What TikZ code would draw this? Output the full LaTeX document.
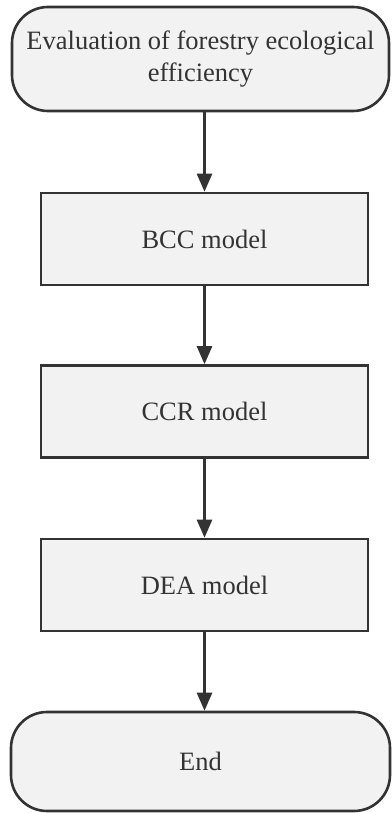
\documentclass[tikz,border=0pt]{standalone}
\usepackage{fontspec}
\setmainfont{Liberation Serif}
\usetikzlibrary{arrows.meta}
\definecolor{strokec}{HTML}{333333}
\definecolor{fillc}{HTML}{F2F2F2}
\definecolor{textc}{HTML}{333333}
\begin{document}
\begin{tikzpicture}[x=1pt,y=1pt,
  base/.style={draw=strokec, line width=2.6pt, fill=fillc, text=textc, inner sep=0pt,
    font=\fontsize{26.5}{32.5}\selectfont, align=center},
  term/.style={base, rounded corners=36pt},
  procbox/.style={base, minimum width=327pt, minimum height=92pt},
  conn/.style={draw=strokec, line width=2.6pt, -{Triangle[length=18pt,width=15pt]}}]
\useasboundingbox (0,0) rectangle (391,-813);
\node[term, minimum width=377pt, minimum height=104pt] (start) at (200.5,-59) {Evaluation of forestry ecological\\efficiency};
\node[procbox] (bcc) at (204.5,-239) {BCC model};
\node[procbox] (ccr) at (204.5,-411.5) {CCR model};
\node[procbox] (dea) at (204.5,-585) {DEA model};
\node[term, minimum width=379pt, minimum height=99pt] (end) at (200.5,-761.5) {End};
\draw[conn] (start.south -| bcc.north) -- (bcc.north);
\draw[conn] (bcc) -- (ccr);
\draw[conn] (ccr) -- (dea);
\draw[conn] (dea.south) -- (end.north -| dea.south);
\end{tikzpicture}
\end{document}
